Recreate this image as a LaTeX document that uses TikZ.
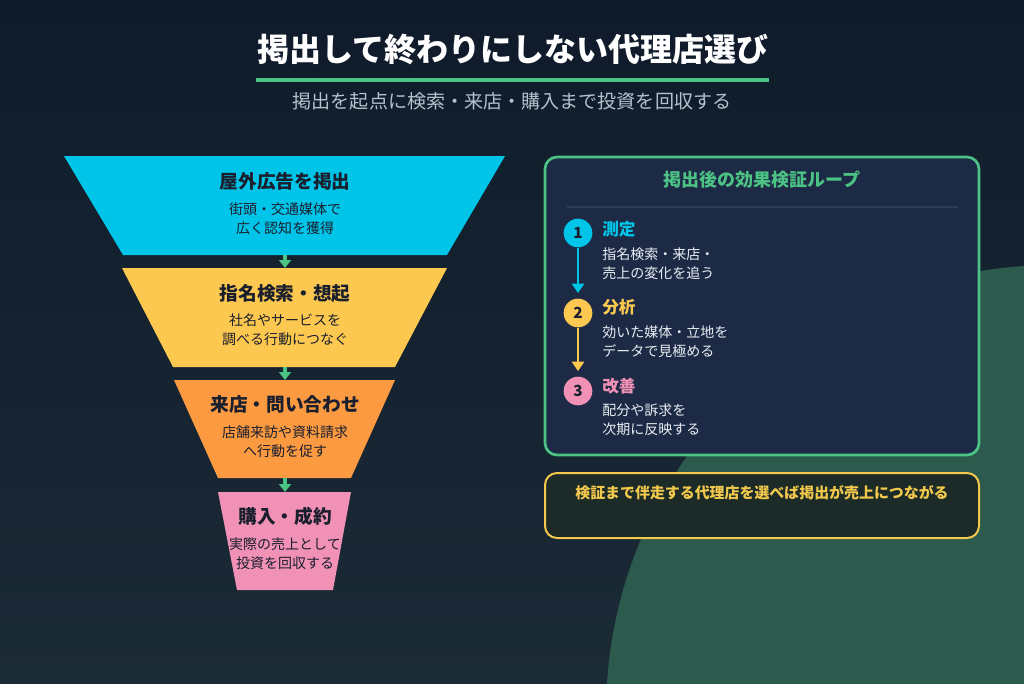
\documentclass[tikz,border=0pt]{standalone}
\usepackage{fontspec}
\setmainfont{Noto Sans CJK JP}
\usetikzlibrary{arrows.meta}
\definecolor{bgtop}{HTML}{0F1B2A}
\definecolor{bgbot}{HTML}{1B2B36}
\definecolor{blob}{HTML}{2C5A4C}
\definecolor{cyanc}{HTML}{00C4E8}
\definecolor{yellowc}{HTML}{FDC84F}
\definecolor{orangec}{HTML}{FB9A40}
\definecolor{pinkc}{HTML}{F191B6}
\definecolor{greenc}{HTML}{4CC285}
\definecolor{navyc}{HTML}{1D2A45}
\definecolor{darkc}{HTML}{1A1F2E}
\definecolor{textw}{HTML}{E9EEF4}
\definecolor{subt}{HTML}{B5C1CD}
\definecolor{sepc}{HTML}{2E3C55}
\definecolor{boxfill}{HTML}{1C2B27}
\definecolor{boxline}{HTML}{F2C94C}
\tikzset{
  ftitle/.style={inner sep=0pt, text=darkc, font=\fontsize{14}{16}\selectfont\bfseries},
  fbody/.style={inner sep=0pt, text=darkc, align=center, font=\fontsize{10.5}{14}\selectfont},
  flowarrow/.style={greenc, line width=2.5pt, -{Triangle[width=9pt,length=6pt]}},
  stepnum/.style={circle, inner sep=0pt, minimum size=21.5pt, text=darkc, font=\fontsize{11.5}{12}\selectfont\bfseries},
  steplabel/.style={inner sep=0pt, anchor=west, font=\fontsize{12.5}{14}\selectfont\bfseries},
  stepbody/.style={inner sep=0pt, anchor=west, align=left, text=textw, font=\fontsize{10.5}{14.5}\selectfont},
}
\begin{document}
\begin{tikzpicture}[x=0.75pt, y=-0.75pt]
\useasboundingbox (0,0) rectangle (1024,683);
\shade[top color=bgtop, bottom color=bgbot] (0,0) rectangle (1024,683);
\begin{scope}
  \clip (0,0) rectangle (1024,683);
  \fill[blob] (1054,713) circle (448);
\end{scope}

% title
\node[inner sep=0pt, text=white, font=\fontsize{24}{28}\selectfont\bfseries] (title) at (513,50) {掲出して終わりにしない代理店選び};
\draw[greenc, line width=3pt] (256,80) -- (769,80);
\node[inner sep=0pt, text=subt, font=\fontsize{14.3}{16}\selectfont] (subtitle) at (512,101) {掲出を起点に検索・来店・購入まで投資を回収する};

% funnel
\fill[cyanc] (64,156) -- (505,156) -- (447,255) -- (123,255) -- cycle;
\fill[yellowc] (122,268) -- (447,268) -- (395,367) -- (173,367) -- cycle;
\fill[orangec] (174,380) -- (395,380) -- (351,478) -- (218,478) -- cycle;
\fill[pinkc] (218,492) -- (351,492) -- (333,590) -- (237,590) -- cycle;

\node[ftitle] (t1) at (285,181) {屋外広告を掲出};
\node[fbody] (b1) at (285,219) {街頭・交通媒体で\\広く認知を獲得};
\node[ftitle] (t2) at (285,293) {指名検索・想起};
\node[fbody] (b2) at (285,330) {社名やサービスを\\調べる行動につなぐ};
\node[ftitle] (t3) at (285,404) {来店・問い合わせ};
\node[fbody] (b3) at (285,442) {店舗来訪や資料請求\\へ行動を促す};
\node[ftitle] (t4) at (285,516) {購入・成約};
\node[fbody] (b4) at (285,554) {実際の売上として\\投資を回収する};

\coordinate (f1b) at (285,255);
\coordinate (f2t) at (285,268);
\coordinate (f2b) at (285,367);
\coordinate (f3t) at (285,380);
\coordinate (f3b) at (285,478);
\coordinate (f4t) at (285,492);
\draw[flowarrow] (f1b) -- (f2t);
\draw[flowarrow] (f2b) -- (f3t);
\draw[flowarrow] (f3b) -- (f4t);

% loop panel
\draw[greenc, fill=navyc, line width=2pt, rounded corners=9pt] (545,157) rectangle (979,455);
\node[inner sep=0pt, text=greenc, font=\fontsize{13.5}{16}\selectfont\bfseries] (ptitle) at (762,180) {掲出後の効果検証ループ};
\draw[sepc, line width=0.8pt] (567,207) -- (958,207);

\node[stepnum, fill=cyanc] (s1) at (578,233) {1};
\node[stepnum, fill=yellowc] (s2) at (578,313) {2};
\node[stepnum, fill=pinkc] (s3) at (578,391) {3};
\draw[cyanc, line width=1.6pt, -{Triangle[width=9pt,length=7pt]}, shorten >=4pt] (s1.south) -- (s2.north);
\draw[yellowc, line width=1.6pt, -{Triangle[width=9pt,length=7pt]}, shorten >=4pt] (s2.south) -- (s3.north);

\node[steplabel, text=cyanc] (l1) at (602,229) {測定};
\node[stepbody] (d1) at (602,264) {指名検索・来店・\\売上の変化を追う};
\node[steplabel, text=yellowc] (l2) at (602,307) {分析};
\node[stepbody] (d2) at (602,342) {効いた媒体・立地を\\データで見極める};
\node[steplabel, text=pinkc] (l3) at (602,386) {改善};
\node[stepbody] (d3) at (602,420) {配分や訴求を\\次期に反映する};

% conclusion box
\draw[boxline, fill=boxfill, line width=1.5pt, rounded corners=9pt] (545,473) rectangle (979,538);
\node[inner sep=0pt, text=boxline, font=\fontsize{11.2}{13}\selectfont\bfseries] (concl) at (762,493) {検証まで伴走する代理店を選べば掲出が売上につながる};
\end{tikzpicture}
\end{document}
